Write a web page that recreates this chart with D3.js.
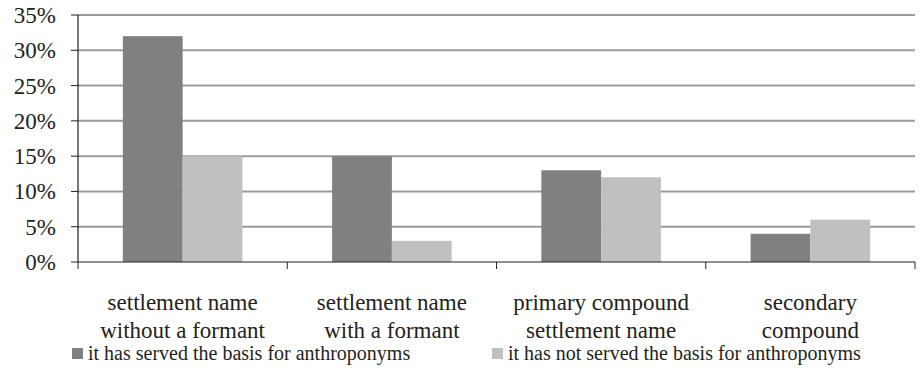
<!DOCTYPE html>
<html>
<head>
<meta charset="utf-8">
<script src="https://cdn.jsdelivr.net/npm/d3@7"></script>
</head>
<body style="margin:0">
<script>
var categories = [
  ["settlement name", "without a formant"],
  ["settlement name", "with a formant"],
  ["primary compound", "settlement name"],
  ["secondary", "compound"]
];
var seriesNames = ["it has served the basis for anthroponyms", "it has not served the basis for anthroponyms"];
var served = [32, 15, 13, 4];
var notServed = [15, 3, 12, 6];
var yTicks = [0, 5, 10, 15, 20, 25, 30, 35];
var colors = ["#808083", "#bfc0c2"];
var ink = "#231f20";

var width = 921, height = 383;
var margin = { left: 78, right: 6, top: 15, bottom: 121 };

var svg = d3.select("body").append("svg")
  .attr("width", width)
  .attr("height", height)
  .attr("font-family", "Liberation Serif");

var x = d3.scaleBand()
  .domain(d3.range(categories.length))
  .range([margin.left, width - margin.right])
  .padding(0);

var x1 = d3.scaleBand()
  .domain([0, 1])
  .range([0, x.bandwidth()])
  .paddingInner(0)
  .paddingOuter(0.75);

var y = d3.scaleLinear()
  .domain([0, 35])
  .range([height - margin.bottom, margin.top]);

// gridlines
svg.append("g")
  .selectAll("line")
  .data(yTicks.filter(d => d > 0))
  .enter()
  .append("line")
  .attr("x1", margin.left)
  .attr("x2", width - margin.right)
  .attr("y1", d => y(d))
  .attr("y2", d => y(d))
  .attr("stroke", "#9a9a9c")
  .attr("stroke-width", 2);

// bars
var series = [served, notServed];
series.forEach(function (vals, s) {
  svg.append("g")
    .selectAll("rect")
    .data(vals)
    .enter()
    .append("rect")
    .attr("x", (d, i) => x(i) + x1(s))
    .attr("y", d => y(d))
    .attr("width", x1.bandwidth())
    .attr("height", d => y(0) - y(d))
    .attr("fill", colors[s]);
});

// y axis (labels drawn as plain text)
svg.append("line")
  .attr("x1", margin.left).attr("x2", margin.left)
  .attr("y1", y(35)).attr("y2", y(0))
  .attr("stroke", ink).attr("stroke-width", 1.2);
svg.append("g").selectAll("line")
  .data(yTicks).enter().append("line")
  .attr("x1", margin.left - 7).attr("x2", margin.left)
  .attr("y1", d => y(d)).attr("y2", d => y(d))
  .attr("stroke", ink);
svg.append("g").selectAll("text")
  .data(yTicks).enter().append("text")
  .style("font-family", "'Liberation Serif'")
  .style("font-size", "23px")
  .attr("text-anchor", "end")
  .attr("fill", ink)
  .attr("x", margin.left - 22)
  .attr("y", d => y(d) + 8)
  .text(d => d + "%");

// x axis
svg.append("line")
  .attr("x1", margin.left)
  .attr("x2", width - margin.right)
  .attr("y1", y(0)).attr("y2", y(0))
  .attr("stroke", ink)
  .attr("stroke-width", 1.2);
svg.append("g").selectAll("line")
  .data(d3.range(categories.length + 1))
  .enter()
  .append("line")
  .attr("x1", d => margin.left + d * x.bandwidth())
  .attr("x2", d => margin.left + d * x.bandwidth())
  .attr("y1", y(0))
  .attr("y2", y(0) + 7)
  .attr("stroke", ink);

// category labels, one text per line
categories.forEach(function (lines, i) {
  svg.append("g").selectAll("text")
    .data(lines).enter().append("text")
    .style("font-family", "'Liberation Serif'")
    .style("font-size", "23px")
    .attr("text-anchor", "middle")
    .attr("fill", ink)
    .attr("x", x(i) + x.bandwidth() / 2)
    .attr("y", (d, k) => 310 + k * 28)
    .text(d => d);
});

// legend
var legendX = [72, 492];
svg.append("g").selectAll("rect")
  .data(seriesNames).enter().append("rect")
  .attr("x", (d, i) => legendX[i])
  .attr("y", 348)
  .attr("width", 11)
  .attr("height", 11)
  .attr("fill", (d, i) => colors[i]);
svg.append("g").selectAll("text")
  .data(seriesNames).enter().append("text")
  .style("font-family", "'Liberation Serif'")
  .style("font-size", "20px")
  .attr("fill", ink)
  .attr("x", (d, i) => legendX[i] + 16)
  .attr("y", 360)
  .text(d => d);
</script>
</body>
</html>
